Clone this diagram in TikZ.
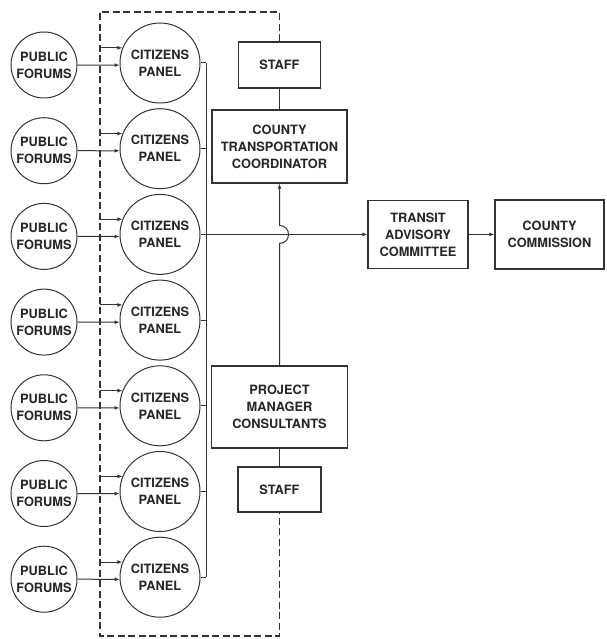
\documentclass[tikz,border=0pt]{standalone}
\usepackage{fontspec}
\setmainfont{TeX Gyre Heros}
\usetikzlibrary{arrows.meta,calc}
\begin{document}
\begin{tikzpicture}[x=1pt,y=-1pt,
  every node/.style={font=\fontsize{12.8}{17}\selectfont\bfseries, align=center, text=black!85},
  forum/.style={draw=black!80, circle, minimum size=66pt, inner sep=0pt, line width=1pt},
  panel/.style={draw=black!80, circle, minimum size=80pt, inner sep=0pt, line width=1pt},
  box/.style={draw=black!80, rectangle, inner sep=0pt, line width=1.2pt},
  conn/.style={draw=black!80, line width=1pt},
  arr/.style={conn, -{Latex[length=5pt,width=4pt]}},
  bnd/.style={draw=black!80, line width=1.6pt, dash pattern=on 7pt off 3.5pt}]
\useasboundingbox (0,0) rectangle (606,639);
% boxes
\node[box, minimum width=82pt, minimum height=46pt] (s1) at (279.5,65) {STAFF};
\node[box, minimum width=135pt, minimum height=73pt] (ctc) at (279.5,146.5) {COUNTY\\TRANSPORTATION\\COORDINATOR};
\node[box, minimum width=100pt, minimum height=68pt] (tac) at (418,234.4) {TRANSIT\\ADVISORY\\COMMITTEE};
\node[box, minimum width=109pt, minimum height=69pt] (cc) at (549.5,234.4) {COUNTY\\COMMISSION};
\node[box, minimum width=136pt, minimum height=82pt] (pmc) at (279.5,407) {PROJECT\\MANAGER\\CONSULTANTS};
\node[box, minimum width=83pt, minimum height=45pt] (s2) at (279.5,489.5) {STAFF};
% dashed boundary
\coordinate (tl) at (100,12);
\coordinate (bl) at (100,636);
\draw[bnd] (s1.north) -- (s1.north |- tl) -- (tl) -- (bl) -- (s2.south |- bl) -- (s2.south);
% rows
\foreach \i in {1,...,7} {
  \pgfmathsetmacro\yy{63+85.7*(\i-1)}
  \node[forum] (f\i) at (44,\yy+2) {PUBLIC\\FORUMS};
  \node[panel] (c\i) at (160,\yy) {CITIZENS\\PANEL};
  \draw[arr] (f\i.east) -- (c\i.183);
  \draw[arr] (tl |- c\i.158) -- (c\i.158);
}
\coordinate (bt) at (206,63);
\foreach \i in {1,2,4,5,6,7} {
  \draw[conn] (c\i.east) -- (c\i.east -| bt);
}
\draw[conn] (bt |- c1.east) -- (bt |- c7.east);
\draw[arr] (c3.east) -- (tac.west);
\draw[arr] (tac.east) -- (cc.west);
% staff links
\draw[conn] (s1.south) -- (s1.south |- ctc.north);
\draw[conn] (s2.north) -- (s2.north |- pmc.south);
% PMC to CTC with jump
\coordinate (j1) at ($(pmc.north |- c3.east)+(0,9)$);
\coordinate (j2) at ($(pmc.north |- c3.east)+(0,-9)$);
\draw[arr] (pmc.north) -- (j1) .. controls +(12,0) and +(12,0) .. (j2) -- (pmc.north |- ctc.south);
\end{tikzpicture}
\end{document}
